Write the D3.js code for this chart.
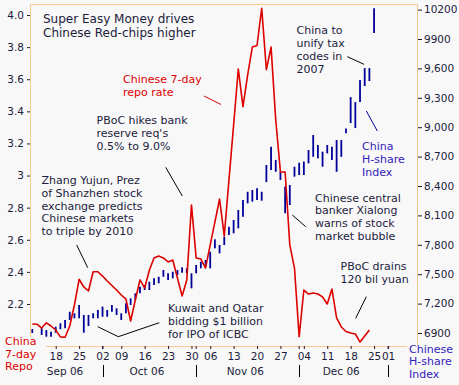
<!DOCTYPE html>
<html lang="en">
<head>
  <meta charset="UTF-8">
  <title>Super Easy Money</title>
  <style>
    body { margin: 0; background: #f8f8f8; }
    text { font-family: "DejaVu Sans", Verdana, sans-serif; }
  </style>
</head>
<body>
  <svg id="svg" width="459" height="385"></svg>

  <script src="https://d3js.org/d3.v7.min.js"></script>
  <script>
    // ------ DATA ------------------------
    // HK trading holidays dropped from the weekday axis
    const holidays = ['2006-10-02', '2006-10-30', '2006-12-25', '2006-12-26', '2007-01-01']

    // Chinese 7-day repo rate, one value per trading day from Sep 11 2006
    const repo = [
      2.075, 2.074, 2.05, 2.083, 2.063, 2.038, 1.995, 1.993, 2.063, 2.194,
      2.354, 2.306, 2.281, 2.401, 2.401, 2.374, 2.343, 2.315, 2.287, 2.256,
      2.231, 2.094, 2.225, 2.35, 2.30, 2.41, 2.487, 2.499, 2.487, 2.462,
      2.474, 2.362, 2.25, 2.35, 2.817, 2.487, 2.48, 2.424, 2.568, 2.71,
      2.854, 2.624, 2.97, 3.315, 3.664, 3.429, 3.627, 3.80, 3.81, 4.042,
      3.66, 3.80, 3.346, 3.022, 3.022, 2.568, 2.424, 1.996, 2.287, 2.262,
      2.269, 2.262, 2.244, 2.20, 2.293, 2.113, 2.057, 2.029, 2.019, 2.013,
      1.963, 2.0, 2.038
    ]

    // China H-share index daily high / low
    const hsHigh = [
      6940, null, 6948, 6930, 6913, 6964, 6999, 7033, 7117, 7101,
      7186, 7084, 7084, 7101, 7135, 7169, 7135, 7186, 7152, 7101,
      7203, 7254, 7305, 7373, 7390, 7423, 7458, 7474, 7543, 7509,
      7525, 7543, 7570, 7560, 7509, 7594, 7627, 7645, 7729, 7856,
      7798, 7882, 7984, 8053, 8155, 8257, 8341, 8359, 8376, 8341,
      8614, 8800, 8665, 8545, 8395, 8410, 8597, 8637, 8650, 8767,
      8920, 8818, 8750, 8818, 8800, 8869, 8869, 8988, 9307, 9256,
      9481, 9603, 9603, 10215
    ]
    const hsLow = [
      6900, null, 6880, 6862, 6862, 6903, 6938, 6948, 7033, 7050,
      7050, 6903, 6971, 7050, 7050, 7066, 7066, 7117, 7084, 7033,
      7101, 7186, 7237, 7305, 7339, 7339, 7390, 7407, 7474, 7441,
      7458, 7492, 7515, 7509, 7356, 7509, 7560, 7576, 7560, 7764,
      7713, 7798, 7900, 7917, 7968, 8087, 8223, 8240, 8257, 8250,
      8440, 8563, 8545, 8461, 8122, 8206, 8495, 8512, 8512, 8631,
      8698, 8682, 8597, 8733, 8665, 8545, 8698, 8937, 9042, 8991,
      9256, 9420, 9471, 9960
    ]

    // tick values and labels
    const repoTicks = [2.2, 2.4, 2.6, 2.8, 3.0, 3.2, 3.4, 3.6, 3.8, 4.0]
    const repoTickLabels = ['2.2', '2.4', '2.6', '2.8', '3', '3.2', '3.4', '3.6', '3.8', '4.0']
    const hsTicks = [6900, 7200, 7500, 7800, 8100, 8400, 8700, 9000, 9300, 9600, 9900, 10200]
    const hsTickLabels = ['6900', '7,200', '7,500', '7,800', '8,100', '8,400', '8,700', '9,000', '9,300', '9,600', '9900', '10200']
    // weekly labels sit on the first trading day of each week
    const weekDays = ['2006-09-18', '2006-09-25', '2006-10-03', '2006-10-09', '2006-10-16', '2006-10-23', '2006-10-31',
                      '2006-11-06', '2006-11-13', '2006-11-20', '2006-11-27', '2006-12-04', '2006-12-11', '2006-12-18',
                      '2006-12-27', '2007-01-02']
    const weekLabels = ['18', '25', '02', '09', '16', '23', '30', '06', '13', '20', '27', '04', '11', '18', '25', '01']
    const monthStarts = ['2006-10-03', '2006-11-01', '2006-12-01', '2007-01-02']
    const monthLabels = ['Sep 06', 'Oct 06', 'Nov 06', 'Dec 06']
    const monthSpans = [['2006-09-11', '2006-09-29'], ['2006-10-03', '2006-10-31'],
                        ['2006-11-01', '2006-11-30'], ['2006-12-01', '2006-12-29']]

    // trading days (weekdays minus holidays)
    const fmt = d3.utcFormat('%Y-%m-%d')
    const days = d3.utcDay.range(new Date(Date.UTC(2006, 8, 11)), new Date(Date.UTC(2007, 0, 11)))
      .filter(d => d.getUTCDay() > 0 && d.getUTCDay() < 6)
      .map(fmt)
      .filter(d => !holidays.includes(d))

    // ------ LAYOUT ------------------------
    const plot = { left: 30, right: 417, top: 4, bottom: 346 }
    const red = '#dd0000'
    const blue = '#000099'
    const ink = '#1c1c3c'
    const frame = '#fcc890'

    const x = d3.scalePoint().domain(days).range([32.3, 416.2])
    const yRepo = d3.scaleLinear().domain([2.2, 4.0]).range([304, 15])
    const yHs = d3.scaleLinear().domain([6900, 10200]).range([333, 9.6])

    const svg = d3.select('#svg')
    svg.append('rect').attr('width', 459).attr('height', 385).attr('fill', '#f8f8f8')

    // frame
    const fr = svg.append('g').attr('stroke', frame).attr('stroke-width', 1).attr('fill', 'none')
    fr.append('path').attr('d', `M${plot.left + 0.5},337V${plot.top + 0.5}H${plot.right + 0.5}V345`)
    fr.append('path').attr('d', `M46,${plot.bottom + 0.5}H407`)

    // ------ AXES ------------------------
    const leftAxis = d3.axisLeft(yRepo).tickValues(repoTicks).tickSize(3).tickPadding(3)
      .tickFormat((d, i) => repoTickLabels[i])
    const gl = svg.append('g').attr('transform', `translate(${plot.left},0)`).call(leftAxis)
    gl.select('.domain').remove()

    const rightAxis = d3.axisRight(yHs).tickValues(hsTicks).tickSize(4).tickPadding(2)
      .tickFormat((d, i) => hsTickLabels[i])
    const gr = svg.append('g').attr('transform', `translate(${plot.right + 1},0)`).call(rightAxis)
    gr.select('.domain').remove()

    const bottomAxis = d3.axisBottom(x).tickValues(weekDays).tickSize(3).tickPadding(4)
      .tickFormat((d, i) => weekLabels[i])
    const gb = svg.append('g').attr('transform', `translate(0,${plot.bottom})`).call(bottomAxis)
    gb.select('.domain').remove()
    // extra ticks at month starts
    gb.selectAll('.mtick').data(monthStarts).enter().append('line')
      .attr('x1', d => x(d)).attr('x2', d => x(d)).attr('y1', 0).attr('y2', 3)
      .attr('stroke', ink)

    for (const g of [gl, gr, gb]) {
      g.selectAll('text').attr('font-size', 10.5).attr('fill', ink)
        .style('font-family', '"DejaVu Sans", Verdana, sans-serif')
      g.selectAll('line').attr('stroke', ink)
    }

    // month labels and separators
    svg.append('g').selectAll('text').data(monthLabels).enter().append('text')
      .attr('x', (d, i) => (x(monthSpans[i][0]) + x(monthSpans[i][1])) / 2)
      .attr('y', 375).attr('text-anchor', 'middle').attr('font-size', 10.5).attr('fill', ink)
      .text(d => d)
    svg.append('g').selectAll('line').data(monthStarts).enter().append('line')
      .attr('x1', d => Math.round(x(d)) + 0.5).attr('x2', d => Math.round(x(d)) + 0.5)
      .attr('y1', 365).attr('y2', 377).attr('stroke', '#000')

    // ------ DRAW -------------------------------
    // H-share high-low bars
    const bars = days.slice(0, hsHigh.length).map((d, i) => ({ d, h: hsHigh[i], l: hsLow[i] }))
      .filter(b => b.h != null)
    svg.append('g').selectAll('line').data(bars).enter().append('line')
      .attr('x1', b => x(b.d)).attr('x2', b => x(b.d))
      .attr('y1', b => yHs(b.h)).attr('y2', b => yHs(b.l))
      .attr('stroke', blue).attr('stroke-width', 1.8)

    // repo rate line
    const line = d3.line().x((v, i) => x(days[i])).y(v => yRepo(v))
    svg.append('path').attr('d', line(repo))
      .attr('fill', 'none').attr('stroke', red).attr('stroke-width', 1.6).attr('stroke-linejoin', 'round')

    // ------ ANNOTATIONS ------------------------
    const notes = [
      { x: 43, y: 23, lh: 13.8, size: 12, color: ink, lines: ['Super Easy Money drives', 'Chinese Red-chips higher'] },
      { x: 123, y: 83, lh: 13, size: 11, color: red, lines: ['Chinese 7-day', 'repo rate'] },
      { x: 96.5, y: 124, lh: 13, size: 11, color: ink, lines: ['PBoC hikes bank', "reserve req's", '0.5% to 9.0%'] },
      { x: 41.5, y: 184, lh: 12.8, size: 11, color: ink, lines: ['Zhang Yujun, Prez', 'of Shanzhen stock', 'exchange predicts', 'Chinese markets', 'to triple by 2010'] },
      { x: 168, y: 312, lh: 13, size: 11, color: ink, lines: ['Kuwait and Qatar', 'bidding $1 billion', 'for IPO of ICBC'] },
      { x: 296.5, y: 33.5, lh: 13, size: 11, color: ink, lines: ['China to', 'unify tax', 'codes in', '2007'] },
      { x: 362, y: 150, lh: 13, size: 11, color: '#3322bb', lines: ['China', 'H-share', 'Index'] },
      { x: 315, y: 201.5, lh: 12.8, size: 11, color: ink, lines: ['Chinese central', 'banker Xialong', 'warns of stock', 'market bubble'] },
      { x: 340.5, y: 269.5, lh: 13, size: 11, color: ink, lines: ['PBoC drains', '120 bil yuan'] },
      { x: 5, y: 345, lh: 12.5, size: 11, color: red, lines: ['China', '7-day', 'Repo'] },
      { x: 409, y: 352.5, lh: 12.5, size: 11, color: '#3322bb', lines: ['Chinese', 'H-share', 'Index'] }
    ]
    const ng = svg.append('g')
    notes.forEach(n => {
      const t = ng.append('text').attr('x', n.x).attr('y', n.y)
        .attr('font-size', n.size).attr('fill', n.color)
      t.selectAll('tspan').data(n.lines).enter().append('tspan')
        .attr('x', n.x).attr('dy', (d, i) => i === 0 ? 0 : n.lh).text(d => d)
    })

    // leader lines
    const leaders = [
      { pts: [[204, 96], [221, 104.5]], color: red },
      { pts: [[165.7, 167.3], [182.3, 196]], color: '#000' },
      { pts: [[76.7, 245], [87.7, 267.7]], color: '#000' },
      { pts: [[97.7, 326.7], [118.3, 336.7], [159.3, 322.7]], color: '#000' },
      { pts: [[347.3, 56.7], [364, 64.3]], color: '#000' },
      { pts: [[366.3, 111], [377.3, 131]], color: blue },
      { pts: [[292.3, 215], [305.7, 226.7]], color: '#000' },
      { pts: [[366.3, 296.7], [355.7, 318.3]], color: '#000' }
    ]
    svg.append('g').selectAll('path').data(leaders).enter().append('path')
      .attr('d', l => d3.line()(l.pts))
      .attr('fill', 'none').attr('stroke', l => l.color).attr('stroke-width', 1)
  </script>
</body>
</html>
